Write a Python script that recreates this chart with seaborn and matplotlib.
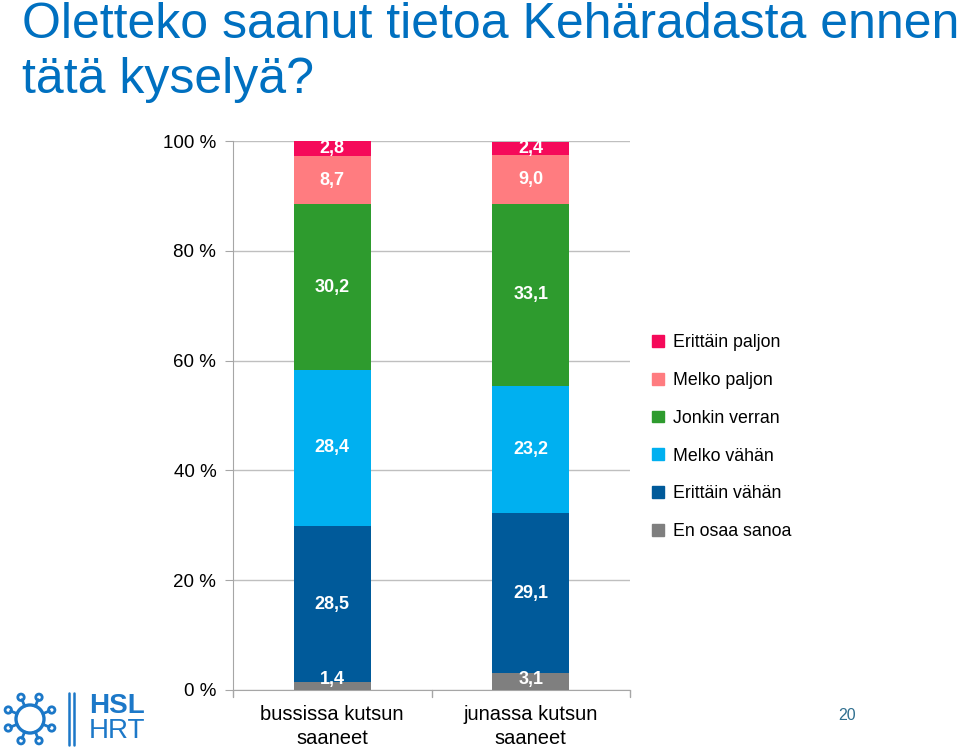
import numpy as np
import pandas as pd
import matplotlib
matplotlib.use("Agg")
import matplotlib.pyplot as plt
import seaborn as sns
from matplotlib.patches import Patch, Circle

# ---------------------
# Data
# ---------------------
groups = ["bussissa kutsun\nsaaneet", "junassa kutsun\nsaaneet"]
answers = ["En osaa sanoa", "Erittäin vähän", "Melko vähän",
           "Jonkin verran", "Melko paljon", "Erittäin paljon"]
bus_values = [1.4, 28.5, 28.4, 30.2, 8.7, 2.8]
train_values = [3.1, 29.1, 23.2, 33.1, 9.0, 2.4]
colors = ["#7F7F7F", "#005A9A", "#00B0F0", "#2E9B2E", "#FF7C80", "#F50A5A"]
y_ticks = [0, 20, 40, 60, 80, 100]

df = pd.DataFrame({"group": groups * len(answers),
                   "answer": np.repeat(answers, len(groups)),
                   "value": [v for pair in zip(bus_values, train_values) for v in pair]})
df["cum"] = df.groupby("group", sort=False)["value"].cumsum()

# ---------------------
# Plot
# ---------------------
sns.set_style("white")
plt.rcParams["font.family"] = ["Liberation Sans", "DejaVu Sans"]
plt.rcParams["text.color"] = "black"
plt.rcParams["xtick.color"] = "black"
plt.rcParams["ytick.color"] = "black"

fig = plt.figure(figsize=(9.6, 7.5), dpi=100)
ax = fig.add_axes([233 / 960, 60 / 750, (630 - 233) / 960, (690 - 141) / 750])

# stacked bars: draw cumulative totals from top down
for ans, col in reversed(list(zip(answers, colors))):
    sub = df[df["answer"] == ans]
    sns.barplot(data=sub, x="group", y="cum", color=col, width=0.39,
                saturation=1, linewidth=0, ax=ax, zorder=3)

for _, row in df.iterrows():
    xi = groups.index(row["group"])
    y = row["cum"] - row["value"] / 2
    y = max(y, 1.9)  # keep tiny bottom labels above the axis
    ax.text(xi, y, f"{row['value']:.1f}".replace(".", ","), ha="center", va="center",
            color="white", fontsize=13, fontweight="bold", zorder=4)

ax.set_ylim(0, 100)
ax.set_xlim(-0.5, 1.5)
ax.set_yticks(y_ticks)
ax.set_yticklabels([f"{t} %" for t in y_ticks], fontsize=13.5)
ax.set_xlabel("")
ax.set_ylabel("")
ax.tick_params(axis="x", labelsize=14.5, length=0, pad=11, labelcolor="black")
for lbl in ax.get_xticklabels():
    lbl.set_linespacing(1.3)
ax.tick_params(axis="y", length=6, color="#A6A6A6", pad=6, left=True, labelcolor="black")
ax.yaxis.grid(True, color="#BFBFBF", linewidth=1, zorder=0)
ax.xaxis.grid(False)
for side in ["top", "right"]:
    ax.spines[side].set_visible(False)
ax.spines["left"].set_color("#A6A6A6")
ax.spines["bottom"].set_color("#A6A6A6")
# category boundary ticks on x axis
for xb in [-0.5, 0.5, 1.5]:
    ax.plot([xb, xb], [0, -1.3], color="#A6A6A6", lw=1, clip_on=False, zorder=5)

handles = [Patch(color=c, label=a) for a, c in zip(answers, colors)][::-1]
fig.legend(handles=handles, loc="upper left", bbox_to_anchor=(645 / 960, 1 - 327 / 750),
           frameon=False, fontsize=12.8, handlelength=0.65, handleheight=0.65,
           handletextpad=0.5, labelspacing=1.17, borderaxespad=0, labelcolor="black")

# title
fig.text(22 / 960, 1 - 2 / 750, "Oletteko saanut tietoa Kehäradasta ennen\ntätä kyselyä?",
         ha="left", va="top", fontsize=36, color="#0070C0", linespacing=1.25)

# page number
fig.text(847 / 960, 1 - 716 / 750, "20", ha="center", va="center", fontsize=11.5, color="#2F6F8F")

# logo
logo_blue = "#1C78C8"
lax = fig.add_axes([0, 0, 1, 1], facecolor="none")
lax.set_xlim(0, 960)
lax.set_ylim(750, 0)
lax.axis("off")
lax.add_patch(Circle((30, 719), 14, fill=False, ec=logo_blue, lw=2.4))
for ang in np.arange(0, 360, 45) + 22.5:
    r = np.deg2rad(ang)
    x0, y0 = 30 + 14 * np.cos(r), 719 + 14 * np.sin(r)
    x1, y1 = 30 + 21 * np.cos(r), 719 + 21 * np.sin(r)
    lax.plot([x0, x1], [y0, y1], color=logo_blue, lw=2)
    lax.add_patch(Circle((x1 + 2.5 * np.cos(r), y1 + 2.5 * np.sin(r)), 3.2,
                         fill=False, ec=logo_blue, lw=2))
lax.plot([69, 69], [693, 745], color=logo_blue, lw=1.8)
lax.plot([74, 74], [693, 745], color=logo_blue, lw=1.8)
lax.text(89, 706, "HSL", fontsize=20, fontweight="bold", color=logo_blue, va="center", ha="left")
lax.text(89, 731, "HRT", fontsize=20, color=logo_blue, va="center", ha="left")

fig.savefig("out.png", dpi=100)
